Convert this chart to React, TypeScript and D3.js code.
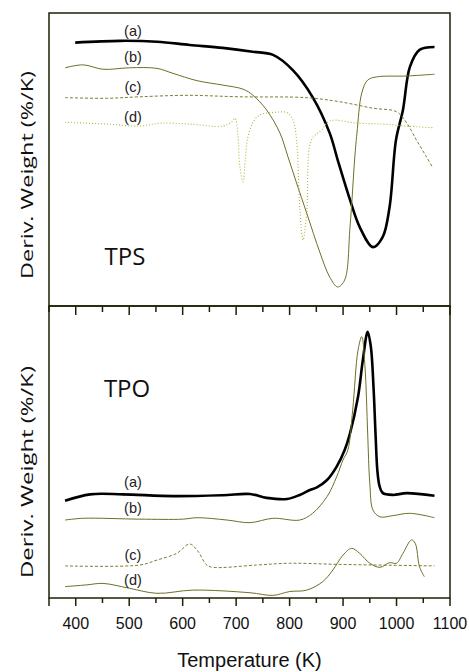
import { useEffect } from 'react'
import * as d3 from 'd3'

type Pt = [number, number]

// Temperature (K), relative DTG signal (0-100 inside each panel)
const tpsA: Pt[] = [
  [399, 89.9], [483, 90.5], [552, 90.2], [613, 89.1], [675, 88.1], [731, 86.8], [769, 85.7],
  [806, 80.5], [843, 71.3], [875, 59.0], [890, 49.8], [913, 36.2], [931, 27.0], [956, 20.1],
  [974, 23.5], [987, 33.8], [999, 56.7], [1012, 66.9], [1025, 81.6], [1043, 87.4], [1071, 88.4],
]
const tpsB: Pt[] = [
  [380, 81.3], [414, 82.3], [451, 80.8], [501, 81.3], [552, 81.1], [582, 79.4], [627, 76.9],
  [675, 75.4], [713, 74.0], [731, 72.0], [757, 66.9], [782, 59.0], [797, 50.9], [813, 42.0],
  [832, 31.7], [857, 18.1], [875, 9.9], [890, 6.5], [903, 8.9], [913, 27.0], [922, 50.9],
  [926, 59.0], [935, 72.7], [946, 77.1], [963, 78.2], [1019, 78.5], [1071, 79.1],
]
const tpsC: Pt[] = [
  [380, 71.1], [458, 70.9], [520, 71.4], [608, 71.9], [707, 71.4], [832, 71.1], [894, 69.7],
  [956, 67.5], [1000, 66.3], [1019, 62.5], [1037, 56.7], [1056, 50.9], [1068, 47.1],
]
const tpsD: Pt[] = [
  [380, 62.7], [458, 62.1], [520, 61.4], [557, 62.4], [613, 62.1], [675, 61.4], [692, 62.9],
  [698, 64.1], [703, 59.0], [707, 47.5], [713, 42.4], [717, 49.8], [721, 56.7], [731, 62.5],
  [744, 65.2], [769, 66.0], [795, 66.0], [806, 63.5], [813, 56.7], [819, 33.8], [825, 22.5],
  [832, 31.7], [841, 56.7], [860, 60.1], [875, 63.2], [926, 62.4], [974, 62.1], [1019, 61.4],
  [1071, 60.8],
]

const tpoA: Pt[] = [
  [380, 33.3], [427, 35.5], [488, 35.5], [582, 34.9], [675, 35.2], [726, 35.6], [757, 34.3],
  [795, 33.9], [819, 35.3], [838, 37.0], [851, 37.9], [870, 40.4], [888, 45.0], [903, 50.7],
  [913, 56.4], [928, 68.9], [937, 81.5], [946, 91.2], [952, 86.0], [957, 72.0], [961, 55.0],
  [964, 44.0], [968, 38.5], [974, 36.0], [993, 35.3], [1019, 35.9], [1071, 35.0],
]
const tpoB: Pt[] = [
  [380, 26.7], [414, 27.3], [520, 27.0], [600, 27.0], [627, 27.5], [683, 26.7], [726, 25.8],
  [769, 27.3], [819, 26.7], [843, 29.0], [870, 34.7], [888, 41.5], [900, 47.3], [909, 50.7],
  [918, 64.4], [928, 84.9], [935, 89.5], [941, 79.2], [946, 56.5], [950, 39.3], [956, 30.1],
  [969, 27.8], [993, 28.2], [1025, 29.0], [1071, 27.5],
]
const tpoC: Pt[] = [
  [380, 11.0], [520, 11.3], [552, 13.0], [589, 15.3], [613, 18.5], [627, 16.4], [645, 11.3],
  [657, 10.5], [739, 11.3], [800, 11.9], [894, 11.5], [1071, 11.0],
]
const tpoD: Pt[] = [
  [380, 3.9], [421, 4.5], [451, 5.0], [501, 3.3], [552, 1.6], [619, 2.7], [726, 1.8],
  [769, 0.9], [800, 2.2], [832, 2.7], [862, 5.6], [881, 9.6], [900, 14.7], [916, 17.0],
  [931, 15.3], [950, 11.9], [969, 10.5], [987, 12.1], [1000, 11.9], [1012, 15.3], [1028, 19.9],
  [1035, 18.7], [1043, 10.7], [1052, 7.3],
]

const seriesNames = ['(a)', '(b)', '(c)', '(d)']
const tpsLabelY = [94.0, 85.1, 74.7, 64.6]
const tpoLabelY = [39.8, 30.7, 14.7, 6.2]
const labelT = 507

const xTicks = d3.range(350, 1101, 50)
const xLabels = d3.range(400, 1101, 100)

const W = 469
const H = 672
const left = 49
const right = 450
const top = 13
const mid = 306
const bottom = 598

const frame = '#1f1f05'
const olive = '#6f6f26'
const oliveDash = '#7d7d33'
const yellowDot = '#b4b43c'

export default function App() {
  useEffect(() => {
    document.body.style.margin = '0'
  }, [])

  const x = d3.scaleLinear().domain([350, 1100]).range([left, right])
  const yTop = d3.scaleLinear().domain([0, 100]).range([mid, top])
  const yBot = d3.scaleLinear().domain([0, 100]).range([bottom, mid])

  const curve = d3.curveCatmullRom.alpha(0.5)
  const lineTop = d3.line<Pt>().x(d => x(d[0])).y(d => yTop(d[1])).curve(curve)
  const lineBot = d3.line<Pt>().x(d => x(d[0])).y(d => yBot(d[1])).curve(curve)

  const sansFont = "'Liberation Sans', Arial, sans-serif"
  const labelFont = "'Open Sans', 'Noto Sans', sans-serif"

  return (
    <svg width={W} height={H} style={{ display: 'block', background: '#fff' }}>
      {/* top panel curves */}
      <path d={lineTop(tpsA) ?? ''} fill="none" stroke="#000" strokeWidth={2.6} />
      <path d={lineTop(tpsB) ?? ''} fill="none" stroke={olive} strokeWidth={1} />
      <path d={lineTop(tpsC) ?? ''} fill="none" stroke={oliveDash} strokeWidth={1} strokeDasharray="3,2" />
      <path d={lineTop(tpsD) ?? ''} fill="none" stroke={yellowDot} strokeWidth={1.1} strokeDasharray="1,2" />

      {/* bottom panel curves */}
      <path d={lineBot(tpoA) ?? ''} fill="none" stroke="#000" strokeWidth={2.6} />
      <path d={lineBot(tpoB) ?? ''} fill="none" stroke={olive} strokeWidth={1} />
      <path d={lineBot(tpoC) ?? ''} fill="none" stroke={oliveDash} strokeWidth={1} strokeDasharray="3,2" />
      <path d={lineBot(tpoD) ?? ''} fill="none" stroke={olive} strokeWidth={1} />

      {/* frames */}
      <rect x={left} y={top} width={right - left} height={mid - top} fill="none" stroke={frame} strokeWidth={1.5} />
      <rect x={left} y={mid} width={right - left} height={bottom - mid} fill="none" stroke={frame} strokeWidth={1.5} />

      {/* ticks on the shared middle line */}
      {xTicks.map(t => (
        <line key={`m${t}`} x1={x(t)} x2={x(t)} y1={mid} y2={mid + (t % 100 === 0 ? 9 : 6)} stroke={frame} strokeWidth={1.5} />
      ))}

      {/* bottom axis */}
      {xTicks.map(t => (
        <line key={`b${t}`} x1={x(t)} x2={x(t)} y1={bottom} y2={bottom + (t % 100 === 0 || t === 350 ? 8 : 5)} stroke={frame} strokeWidth={1.5} />
      ))}
      {xLabels.map(t => (
        <text key={`l${t}`} x={x(t)} y={629} textAnchor="middle" fontFamily={sansFont} fontSize={16} fill="#111">
          {t}
        </text>
      ))}
      <text x={x(725)} y={667} textAnchor="middle" fontFamily={sansFont} fontSize={20} fill="#111">
        Temperature (K)
      </text>

      {/* y labels */}
      <text transform={`translate(33,175) rotate(-90)`} textAnchor="middle" fontFamily={labelFont} fontSize={17} fill="#111" textLength={208} lengthAdjust="spacingAndGlyphs">
        Deriv. Weight (%/K)
      </text>
      <text transform={`translate(33,472) rotate(-90)`} textAnchor="middle" fontFamily={labelFont} fontSize={17} fill="#111" textLength={212} lengthAdjust="spacingAndGlyphs">
        Deriv. Weight (%/K)
      </text>

      {/* series labels */}
      {seriesNames.map((n, i) => (
        <text key={`ts${n}`} x={x(labelT)} y={yTop(tpsLabelY[i])} dy="0.35em" textAnchor="middle" fontFamily={sansFont} fontSize={14.5} fill="#222">
          {n}
        </text>
      ))}
      {seriesNames.map((n, i) => (
        <text key={`bs${n}`} x={x(labelT)} y={yBot(tpoLabelY[i])} dy="0.35em" textAnchor="middle" fontFamily={sansFont} fontSize={14.5} fill="#222">
          {n}
        </text>
      ))}

      <text x={x(492)} y={yTop(16.7)} dy="0.35em" textAnchor="middle" fontFamily={labelFont} fontSize={24} fill="#111">
        TPS
      </text>
      <text x={x(496)} y={yBot(71.6)} dy="0.35em" textAnchor="middle" fontFamily={labelFont} fontSize={24} fill="#111">
        TPO
      </text>
    </svg>
  )
}
